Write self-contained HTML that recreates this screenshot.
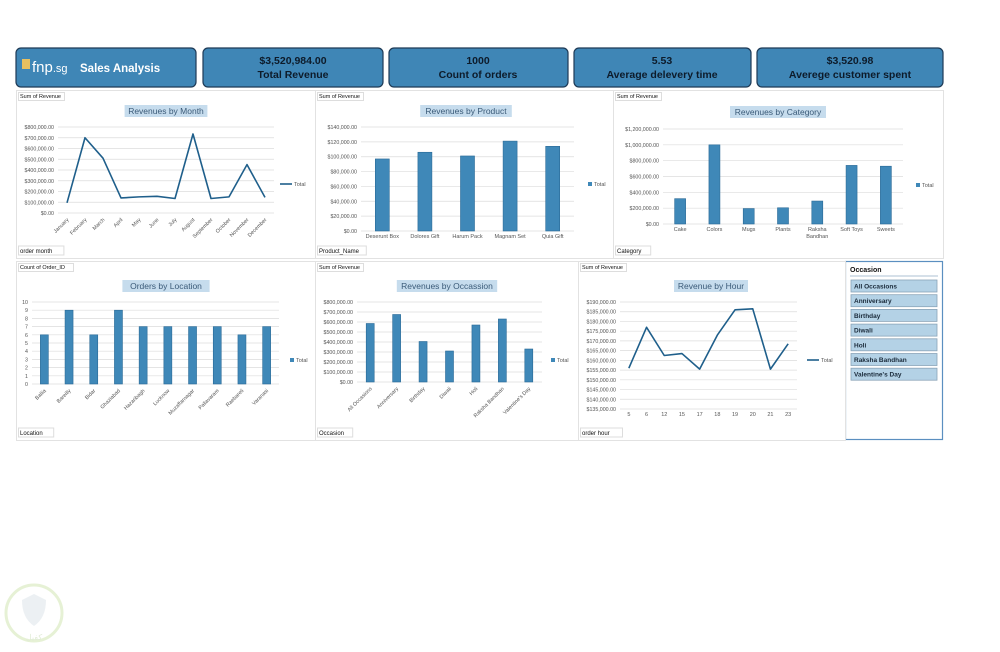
<!DOCTYPE html>
<html><head><meta charset="utf-8"><style>
body{margin:0;background:#fff;width:1000px;height:647px;overflow:hidden;font-family:"Liberation Sans",sans-serif}
svg text{font-family:"Liberation Sans",sans-serif}
</style></head><body>
<svg id="s" width="1000" height="647" xmlns="http://www.w3.org/2000/svg">
<g>
<rect x="16" y="48" width="180" height="39" rx="5" fill="#3f86b6" stroke="#1e3a56" stroke-width="1.2"/>
<rect x="22" y="59" width="8" height="10" fill="#e8c060"/>
<text x="32" y="72" font-size="15" fill="#fff">fnp<tspan font-size="11">.sg</tspan></text>
<text x="80" y="72" font-size="11.5" font-weight="bold" fill="#fff">Sales Analysis</text>
<rect x="203" y="48" width="180" height="39" rx="5" fill="#3f86b6" stroke="#1e3a56" stroke-width="1.2"/>
<text x="293" y="64" font-size="10.5" font-weight="bold" text-anchor="middle" fill="#0d1b2a">$3,520,984.00</text>
<text x="293" y="78" font-size="10.5" font-weight="bold" text-anchor="middle" fill="#0d1b2a">Total Revenue</text>
<rect x="389" y="48" width="179" height="39" rx="5" fill="#3f86b6" stroke="#1e3a56" stroke-width="1.2"/>
<text x="478" y="64" font-size="10.5" font-weight="bold" text-anchor="middle" fill="#0d1b2a">1000</text>
<text x="478" y="78" font-size="10.5" font-weight="bold" text-anchor="middle" fill="#0d1b2a">Count of orders</text>
<rect x="574" y="48" width="177" height="39" rx="5" fill="#3f86b6" stroke="#1e3a56" stroke-width="1.2"/>
<text x="662" y="64" font-size="10.5" font-weight="bold" text-anchor="middle" fill="#0d1b2a">5.53</text>
<text x="662" y="78" font-size="10.5" font-weight="bold" text-anchor="middle" fill="#0d1b2a">Average delevery time</text>
<rect x="757" y="48" width="186" height="39" rx="5" fill="#3f86b6" stroke="#1e3a56" stroke-width="1.2"/>
<text x="850" y="64" font-size="10.5" font-weight="bold" text-anchor="middle" fill="#0d1b2a">$3,520.98</text>
<text x="850" y="78" font-size="10.5" font-weight="bold" text-anchor="middle" fill="#0d1b2a">Averege customer spent</text>
</g>
<g>
<rect x="845.5" y="261.5" width="97" height="178" fill="#fff" stroke="#5b8fc0" stroke-width="1.2"/>
<text x="850" y="272" font-size="7" font-weight="bold" fill="#111">Occasion</text>
<line x1="850" y1="276" x2="938" y2="276" stroke="#c8d6e2" stroke-width="1.5"/>
</g>
<g opacity="0.35">
<circle cx="34" cy="613" r="28" fill="none" stroke="#b9d98a" stroke-width="3"/>
<path d="M22 600 L34 594 L46 600 Q46 618 34 626 Q22 618 22 600Z" fill="#c9d6de"/>
<text x="34" y="640" font-size="8" text-anchor="middle" fill="#a9c98a">كفيل</text>
</g>
</svg>
<script>
// ---- data ----
const monthCats=["January","February","March","April","May","June","July","August","September","October","November","December"];
const monthVals=[95000,700000,510000,140000,150000,155000,135000,735000,135000,150000,450000,145000];
const monthTicks=[0,100000,200000,300000,400000,500000,600000,700000,800000];
const productCats=["Deserunt Box","Dolores Gift","Harum Pack","Magnam Set","Quia Gift"];
const productVals=[97000,106000,101000,121000,114000];
const productTicks=[0,20000,40000,60000,80000,100000,120000,140000];
const categoryCats=["Cake","Colors","Mugs","Plants","Raksha\nBandhan","Soft Toys","Sweets"];
const categoryVals=[320000,1000000,195000,205000,290000,740000,730000];
const categoryTicks=[0,200000,400000,600000,800000,1000000,1200000];
const locationCats=["Ballia","Bareilly","Bidar","Ghaziabad","Hazaribagh","Lucknow","Muzaffarnagar","Pallavaram","Raebareli","Varanasi"];
const locationVals=[6,9,6,9,7,7,7,7,6,7];
const locationTicks=[0,1,2,3,4,5,6,7,8,9,10];
const occasionCats=["All Occasions","Anniversary","Birthday","Diwali","Holi","Raksha Bandhan","Valentine's Day"];
const occasionVals=[585000,675000,405000,310000,570000,630000,330000];
const occasionTicks=[0,100000,200000,300000,400000,500000,600000,700000,800000];
const hourCats=["5","6","12","15","17","18","19","20","21","23"];
const hourVals=[156000,177000,162500,163500,155500,173000,186000,186500,155500,168500];
const hourTicks=[135000,140000,145000,150000,155000,160000,165000,170000,175000,180000,185000,190000];
const slicerItems=["All Occasions","Anniversary","Birthday","Diwali","Holi","Raksha Bandhan","Valentine's Day"];

const NS="http://www.w3.org/2000/svg", S=document.getElementById('s');
function el(t,a,p){const e=document.createElementNS(NS,t);for(const k in a)e.setAttribute(k,a[k]);(p||S).appendChild(e);return e;}
function money(v){return "$"+v.toLocaleString("en-US",{minimumFractionDigits:2,maximumFractionDigits:2});}

function chart(o){
  const g=el('g',{});
  
  
  el('rect',{x:o.px+0.5,y:o.py+0.5,width:o.pw,height:o.ph,fill:'#fff',stroke:'#e2e2e2'},g);
  // field label top
  const fl=el('text',{x:o.px+4,y:o.py+8,'font-size':5.5,fill:'#111'},g);fl.textContent=o.field;
  
  
  el('rect',{x:o.px+2.5,y:o.py+2.5,width:o.field.length*3+4,height:8,fill:'none',stroke:'#ddd'},g);
  // title
  const tw=o.title.length*4.4+8;
  const tr=el('rect',{x:o.tx-tw/2,y:o.ty-8,width:tw,height:12,fill:'#c6dced'},g);
  const tt=el('text',{x:o.tx,y:o.ty+1,'font-size':8.5,'text-anchor':'middle',fill:'#3a5a78'},g);tt.textContent=o.title;
  
  
  // axis field button
  const ab=el('rect',{x:o.px+2.5,y:o.py+o.ph-12,width:o.axis.length*3.4+8,height:9,fill:'#fff',stroke:'#ddd'},g);
  const at=el('text',{x:o.px+4,y:o.py+o.ph-5,'font-size':6,fill:'#111'},g);at.textContent=o.axis;
  
  
  const min=o.ticks[0],max=o.ticks[o.ticks.length-1];
  const y=v=>o.y0-(v-min)/(max-min)*(o.y0-o.y1);
  const n=o.cats.length,step=(o.x1-o.x0)/n;
  const x=i=>o.x0+step*(i+0.5);
  o.ticks.forEach(t=>{
    el('line',{x1:o.x0,x2:o.x1,y1:y(t),y2:y(t),stroke:'#dcdcdc','stroke-width':0.7},g);
    const lt=el('text',{x:o.x0-4,y:y(t)+2,'font-size':5.3,'text-anchor':'end',fill:'#555'},g);
    lt.textContent=o.fmt?o.fmt(t):t;
    
    
  });
  o.cats.forEach((c,i)=>{
    const cx=x(i),ly=o.y0+7;
    if(o.rot){
      const t=el('text',{x:cx+2,y:ly,'font-size':5.3,'text-anchor':'end',fill:'#555',transform:`rotate(-45 ${cx+2} ${ly})`},g);t.textContent=c;
      
      
    } else {
      c.split("\n").forEach((p,k)=>{const t=el('text',{x:cx,y:ly+k*7,'font-size':5.5,'text-anchor':'middle',fill:'#555'},g);t.textContent=p;
      
      });
    }
  });
  if(o.type==='bar'){
    o.vals.forEach((v,i)=>{
      const b=el('rect',{x:x(i)-o.bw/2,y:y(v),width:o.bw,height:o.y0-y(v),fill:'#3f88b8',stroke:'#2a6a96','stroke-width':0.6},g);
      
      
    });
    el('rect',{x:o.lx,y:o.ly-4,width:4,height:4,fill:'#3f88b8'},g);
  } else {
    const p=el('polyline',{points:o.vals.map((v,i)=>x(i)+','+y(v)).join(' '),fill:'none',stroke:'#1f5f8b','stroke-width':1.6,'stroke-linejoin':'round'},g);
    
    
    el('line',{x1:o.lx-8,x2:o.lx+4,y1:o.ly-2,y2:o.ly-2,stroke:'#1f5f8b','stroke-width':1.6},g);
  }
  const lg=el('text',{x:o.lx+6,y:o.ly,'font-size':5.5,fill:'#555'},g);lg.textContent='Total';
  
  
}

chart({name:'revenues-by-month-chart',px:16,py:90,pw:299,ph:168,field:'Sum of Revenue',title:'Revenues by Month',tx:166,ty:113,axis:'order month',
 cats:monthCats,vals:monthVals,ticks:monthTicks,fmt:money,type:'line',x0:58,x1:274,y0:213,y1:127,rot:true,lx:288,ly:186});
chart({name:'revenues-by-product-chart',px:315,py:90,pw:298,ph:168,field:'Sum of Revenue',title:'Revenues by Product',tx:466,ty:113,axis:'Product_Name',
 cats:productCats,vals:productVals,ticks:productTicks,fmt:money,type:'bar',bw:14,x0:361,x1:574,y0:231,y1:127,lx:588,ly:186});
chart({name:'revenues-by-category-chart',px:613,py:90,pw:330,ph:168,field:'Sum of Revenue',title:'Revenues by Category',tx:778,ty:114,axis:'Category',
 cats:categoryCats,vals:categoryVals,ticks:categoryTicks,fmt:money,type:'bar',bw:11,x0:663,x1:903,y0:224,y1:129,lx:916,ly:187});
chart({name:'orders-by-location-chart',px:16,py:261,pw:299,ph:179,field:'Count of Order_ID',title:'Orders by Location',tx:166,ty:288,axis:'Location',
 cats:locationCats,vals:locationVals,ticks:locationTicks,type:'bar',bw:8,x0:32,x1:279,y0:384,y1:302,rot:true,lx:290,ly:362});
chart({name:'revenues-by-occasion-chart',px:315,py:261,pw:263,ph:179,field:'Sum of Revenue',title:'Revenues by Occassion',tx:447,ty:288,axis:'Occasion',
 cats:occasionCats,vals:occasionVals,ticks:occasionTicks,fmt:money,type:'bar',bw:8,x0:357,x1:542,y0:382,y1:302,rot:true,lx:551,ly:362});
chart({name:'revenue-by-hour-chart',px:578,py:261,pw:267,ph:179,field:'Sum of Revenue',title:'Revenue by Hour',tx:711,ty:288,axis:'order hour',
 cats:hourCats,vals:hourVals,ticks:hourTicks,fmt:money,type:'line',x0:620,x1:797,y0:409,y1:302,lx:815,ly:362});

slicerItems.forEach((s,i)=>{
  const yy=280+i*14.7;
  const r=el('rect',{x:851,y:yy,width:86,height:12,fill:'#b4d2e6',stroke:'#8aa4b8','stroke-width':0.8});
  
  
  const t=el('text',{x:854,y:yy+8.5,'font-size':6.5,'font-weight':'bold',fill:'#1a2a3a'});t.textContent=s;
  
  
});
</script>
</body></html>
